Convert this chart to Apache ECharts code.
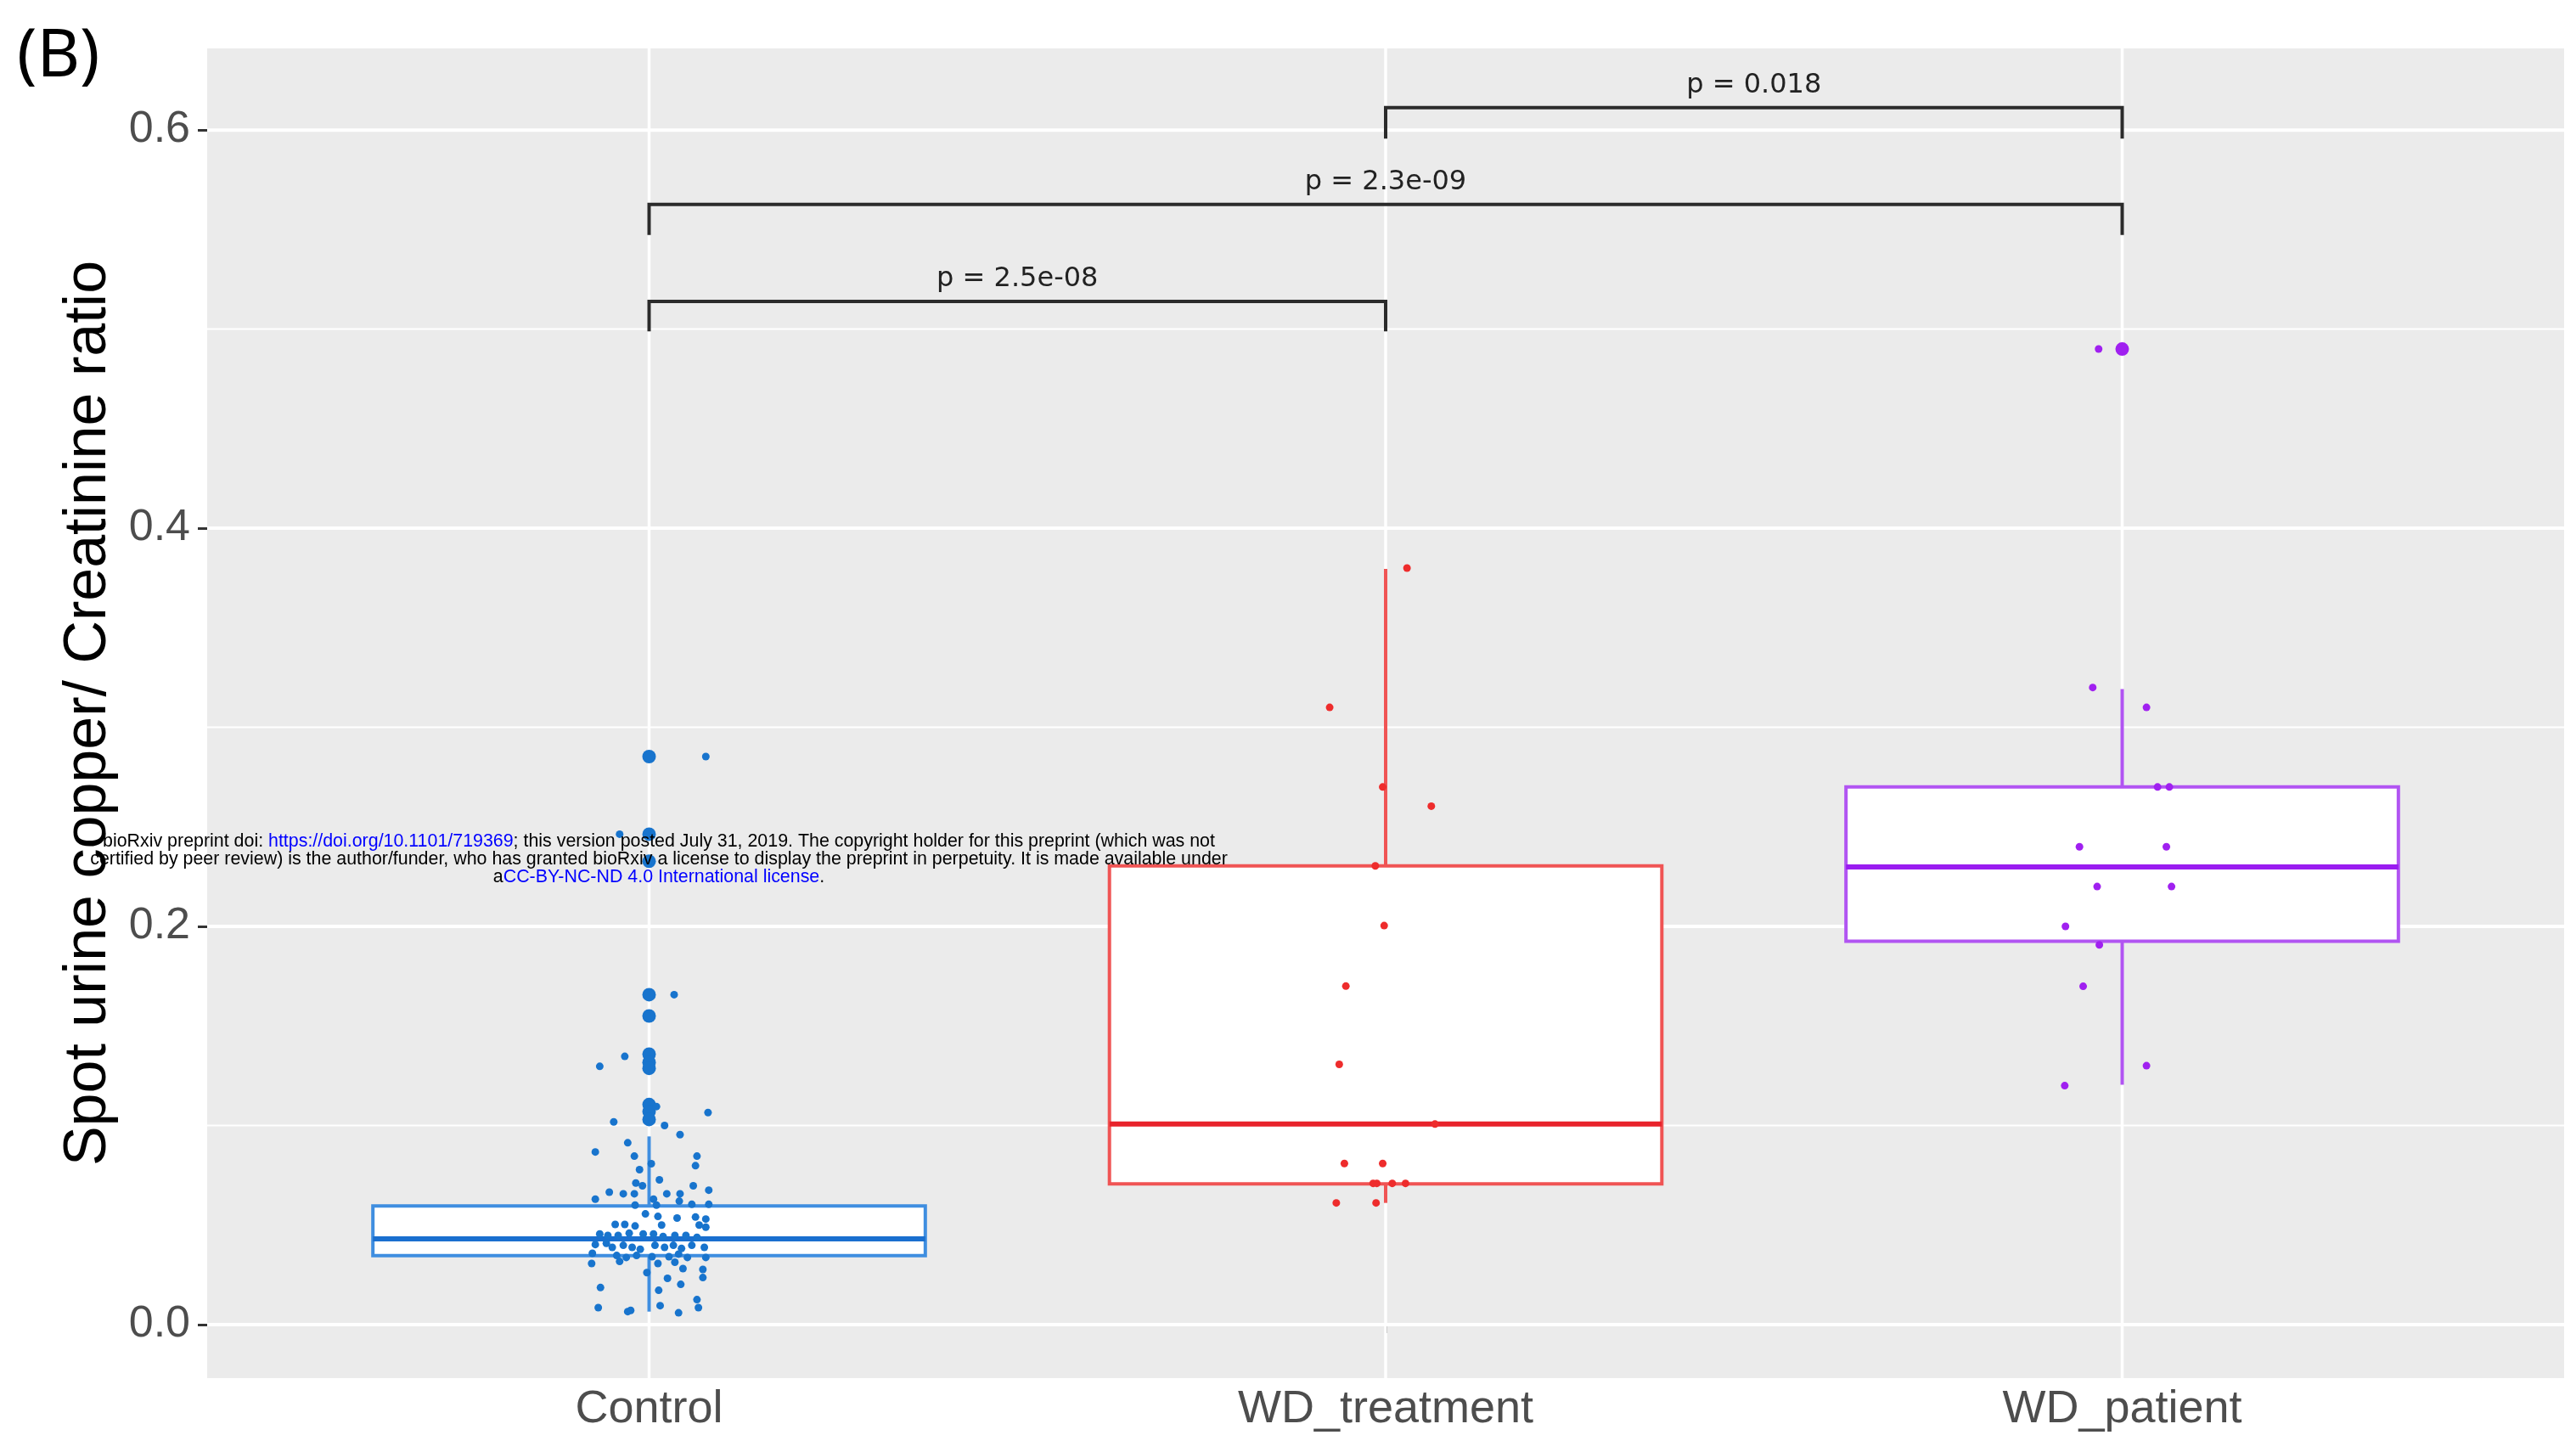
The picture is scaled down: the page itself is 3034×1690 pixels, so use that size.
<!DOCTYPE html>
<html><head><meta charset="utf-8">
<script src="https://cdn.jsdelivr.net/npm/echarts@6/dist/echarts.min.js"></script>
<style>html,body{margin:0;padding:0;background:#fff}#c{width:3034px;height:1690px}</style>
</head><body><div id="c"></div>
<script>
// ---------------- data ----------------
const categories = ['Control', 'WD_treatment', 'WD_patient'];
const yTicks = [0, 0.2, 0.4, 0.6];
const yMinorTicks = [0.1, 0.3, 0.5];
const yTitle = 'Spot urine copper/ Creatinine ratio';

// box statistics: [lower whisker, Q1, median, Q3, upper whisker]
const controlBox = [0.0065, 0.0346, 0.0430, 0.0596, 0.0945];
const treatmentBox = [0.0611, 0.0707, 0.1007, 0.2304, 0.3796];
const patientBox = [0.1205, 0.1925, 0.2299, 0.2701, 0.3192];

// boxplot outliers
const controlOutliers = [0.2853, 0.2463, 0.2327, 0.1657, 0.1550, 0.1358, 0.1317, 0.1287, 0.1105, 0.1070, 0.1030];
const treatmentOutliers = [];
const patientOutliers = [0.490];

// jittered observations: [horizontal jitter (category units), value]
const controlPoints = [
  [0.077,0.2853],[-0.040,0.2463],[0.002,0.2327],[0.034,0.1657],[-0.002,0.1550],[-0.033,0.1347],[-0.067,0.1297],
  [0.010,0.1095],[0.080,0.1065],[-0.048,0.1018],[0.021,0.1000],[0.042,0.0954],
  [-0.029,0.0913],[-0.073,0.0867],[-0.020,0.0846],[0.065,0.0846],[0.063,0.0798],[0.003,0.0808],[-0.013,0.0778],
  [0.014,0.0727],[-0.018,0.0711],[-0.009,0.0697],[0.060,0.0697],[0.081,0.0675],[-0.054,0.0665],[-0.035,0.0657],
  [-0.020,0.0657],[0.024,0.0657],[0.042,0.0657],[-0.073,0.0630],[0.006,0.0630],[0.041,0.0620],[0.058,0.0604],
  [0.081,0.0604],[-0.019,0.0600],[0.010,0.0600],[-0.005,0.0556],[0.012,0.0543],[0.038,0.0535],[0.063,0.0540],
  [0.077,0.0530],[-0.046,0.0503],[-0.033,0.0503],[-0.019,0.0495],[0.017,0.0500],[0.068,0.0500],[0.077,0.0489],
  [-0.067,0.0455],[-0.056,0.0448],[-0.042,0.0448],[-0.027,0.0459],[-0.008,0.0455],[0.006,0.0455],[0.019,0.0442],
  [0.035,0.0448],[0.050,0.0448],[0.065,0.0438],[-0.073,0.0402],[-0.058,0.0408],[-0.050,0.0388],[-0.035,0.0398],
  [-0.023,0.0388],[-0.012,0.0378],[0.008,0.0398],[0.021,0.0388],[0.033,0.0398],[0.044,0.0382],[0.058,0.0398],
  [0.075,0.0388],[-0.077,0.0358],[-0.044,0.0347],[-0.031,0.0337],[-0.017,0.0347],[0.004,0.0341],[0.027,0.0341],
  [0.040,0.0354],[0.052,0.0337],[0.077,0.0337],[-0.078,0.0307],[-0.040,0.0317],[0.012,0.0307],[0.035,0.0313],
  [0.073,0.0277],[0.046,0.0281],[-0.003,0.0261],[0.073,0.0236],[0.025,0.0232],[-0.066,0.0186],[0.043,0.0202],
  [0.013,0.0172],[0.065,0.0125],[-0.069,0.0085],[0.015,0.0095],[0.067,0.0085],[-0.029,0.0065],[-0.025,0.0071],
  [0.040,0.0059]
];
const treatmentPoints = [
  [0.029,0.380],[-0.076,0.310],[-0.004,0.270],[0.062,0.2604],[-0.014,0.2304],[-0.002,0.2004],[-0.054,0.170],
  [-0.063,0.1307],[0.067,0.1007],[-0.056,0.0809],[-0.004,0.0809],[-0.017,0.0709],[-0.012,0.0709],[0.009,0.0709],
  [0.027,0.0709],[-0.067,0.0611],[-0.013,0.0611]
];
const patientPoints = [
  [-0.032,0.490],[-0.040,0.320],[0.033,0.310],[0.048,0.270],[0.064,0.270],[-0.058,0.240],[0.060,0.240],
  [-0.034,0.220],[0.067,0.220],[-0.077,0.200],[-0.031,0.1907],[-0.053,0.1699],[0.033,0.130],[-0.078,0.120]
];

// pairwise comparisons (category numbers 1..3), bracket level, tip level, label
const comparisons = [[2, 3], [1, 3], [1, 2]];
const compLevels = [0.6112, 0.5626, 0.5139];
const compTips = [0.5957, 0.5473, 0.4989];
const compLabels = ['p = 0.018', 'p = 2.3e-09', 'p = 2.5e-08'];

// ---------------- styling ----------------
const pointColors = ['#1874CD', '#EE2C2C', '#A020F0'];
const boxColors = ['#3f8ee0', '#f05454', '#b154f2'];
const medianColors = ['#1a6fcf', '#e8232b', '#9a1cf0'];
const FONT = '"Liberation Sans", Arial, sans-serif';
const WM_FONT = '21.4px "Liberation Sans", Arial, sans-serif';

const boxes = [controlBox, treatmentBox, patientBox];
const outliers = [controlOutliers, treatmentOutliers, patientOutliers];
const points = [controlPoints, treatmentPoints, patientPoints];

const boxData = boxes.map((b, i) => [i + 1].concat(b).concat([i]));
const gridData = []
  .concat(yTicks.map(v => [0, v]))
  .concat(yMinorTicks.map(v => [1, v]))
  .concat(categories.map((c, i) => [2, i + 1]));

const series = [];
series.push({
  type: 'custom', z: 1, silent: true, data: gridData,
  renderItem: function (params, api) {
    const kind = api.value(0), v = api.value(1);
    const cs = params.coordSys;
    if (kind === 2) {
      const x = api.coord([v, 0])[0];
      return { type: 'line', shape: { x1: x, y1: cs.y, x2: x, y2: cs.y + cs.height },
        style: { stroke: '#ffffff', lineWidth: 3.5 } };
    }
    const y = api.coord([1, v])[1];
    return { type: 'line', shape: { x1: cs.x, y1: y, x2: cs.x + cs.width, y2: y },
      style: { stroke: '#ffffff', lineWidth: kind === 0 ? 4 : 2 } };
  }
});
series.push({
  type: 'custom', z: 2, silent: true, data: boxData,
  renderItem: function (params, api) {
    const x = api.value(0), lo = api.value(1), q1 = api.value(2), med = api.value(3),
          q3 = api.value(4), hi = api.value(5), ci = api.value(6);
    const half = 0.375;
    const pL = api.coord([x - half, q3]), pR = api.coord([x + half, q1]);
    const c = api.coord([x, med]);
    const yLo = api.coord([x, lo])[1], yHi = api.coord([x, hi])[1];
    const yQ1 = pR[1], yQ3 = pL[1];
    const col = boxColors[ci];
    return { type: 'group', children: [
      { type: 'line', shape: { x1: c[0], y1: yHi, x2: c[0], y2: yQ3 }, style: { stroke: col, lineWidth: 4 } },
      { type: 'line', shape: { x1: c[0], y1: yQ1, x2: c[0], y2: yLo }, style: { stroke: col, lineWidth: 4 } },
      { type: 'rect', shape: { x: pL[0], y: yQ3, width: pR[0] - pL[0], height: yQ1 - yQ3 },
        style: { fill: '#ffffff', stroke: col, lineWidth: 4 } },
      { type: 'line', shape: { x1: pL[0], y1: c[1], x2: pR[0], y2: c[1] }, style: { stroke: medianColors[ci], lineWidth: 6 } }
    ] };
  }
});
outliers.forEach((arr, i) => {
  series.push({
    type: 'scatter', z: 3, silent: true, symbolSize: 16,
    itemStyle: { color: pointColors[i], opacity: 1 },
    data: arr.map(v => [i + 1, v])
  });
});
points.forEach((arr, i) => {
  series.push({
    type: 'scatter', z: 4, silent: true, symbolSize: 9,
    itemStyle: { color: pointColors[i], opacity: 1 },
    data: arr.map(p => [i + 1 + p[0], p[1]])
  });
});
series.push({
  type: 'custom', z: 5, silent: true,
  data: comparisons.map((c, i) => [c[0], c[1], compLevels[i], compTips[i], i]),
  renderItem: function (params, api) {
    const a = api.value(0), b = api.value(1), lev = api.value(2), tip = api.value(3), i = api.value(4);
    const p1 = api.coord([a, tip]), p2 = api.coord([a, lev]), p3 = api.coord([b, lev]), p4 = api.coord([b, tip]);
    return { type: 'group', children: [
      { type: 'polyline', shape: { points: [p1, p2, p3, p4] },
        style: { stroke: '#2b2b2b', lineWidth: 4, fill: null } },
      { type: 'text', style: { text: compLabels[i], x: (p2[0] + p3[0]) / 2, y: p2[1] - 26,
        align: 'center', verticalAlign: 'middle', font: '32px "DejaVu Sans", sans-serif', fill: '#222222' } }
    ] };
  }
});

const chart = echarts.init(document.getElementById('c'), null, { renderer: 'canvas' });
chart.setOption({
  animation: false,
  backgroundColor: '#ffffff',
  grid: { left: 244, right: 14, top: 57, bottom: 67, show: true, backgroundColor: '#EBEBEB',
          borderWidth: 0, containLabel: false, outerBoundsMode: 'none' },
  xAxis: {
    type: 'value', min: 0.4, max: 3.6,
    axisLine: { show: false },
    splitLine: { show: false },
    axisTick: { show: true, length: 10, customValues: [1, 2, 3], lineStyle: { color: '#333333', width: 3 } },
    axisLabel: { customValues: [1, 2, 3], margin: 10, fontSize: 54, fontFamily: FONT, color: '#4D4D4D',
                 formatter: v => categories[Math.round(v) - 1] }
  },
  yAxis: {
    type: 'value', min: -0.0269, max: 0.641,
    name: yTitle, nameLocation: 'middle', nameGap: 104,
    nameTextStyle: { fontSize: 70, fontFamily: FONT, color: '#000000' },
    axisLine: { show: false },
    splitLine: { show: false },
    axisTick: { show: true, length: 11, customValues: yTicks, lineStyle: { color: '#333333', width: 3 } },
    axisLabel: { customValues: yTicks, margin: 20, fontSize: 52, fontFamily: FONT, color: '#4D4D4D',
                 formatter: v => v.toFixed(1) }
  },
  graphic: [
    { type: 'text', left: 20, top: 29, z: 100,
      style: { text: '(B)', font: '78px "Noto Sans", sans-serif', fill: '#000000' } },
    { type: 'text', x: 776, y: 991, z: 100, silent: true,
      style: { text: '{k|bioRxiv preprint doi: }{b|https://doi.org/10.1101/719369}{k|; this version posted July 31, 2019. The copyright holder for this preprint (which was not}',
        font: WM_FONT, align: 'center', verticalAlign: 'middle',
        rich: { k: { fill: '#000000', color: '#000000', font: WM_FONT },
                b: { fill: '#0000FF', color: '#0000FF', font: WM_FONT } } } },
    { type: 'text', x: 776, y: 1012, z: 100, silent: true,
      style: { text: 'certified by peer review) is the author/funder, who has granted bioRxiv a license to display the preprint in perpetuity. It is made available under',
        font: WM_FONT, fill: '#000000', align: 'center', verticalAlign: 'middle' } },
    { type: 'text', x: 776, y: 1033, z: 100, silent: true,
      style: { text: '{k|a}{b|CC-BY-NC-ND 4.0 International license}{k|.}',
        font: WM_FONT, align: 'center', verticalAlign: 'middle',
        rich: { k: { fill: '#000000', color: '#000000', font: WM_FONT },
                b: { fill: '#0000FF', color: '#0000FF', font: WM_FONT } } } }
  ],
  series: series
});
</script></body></html>
